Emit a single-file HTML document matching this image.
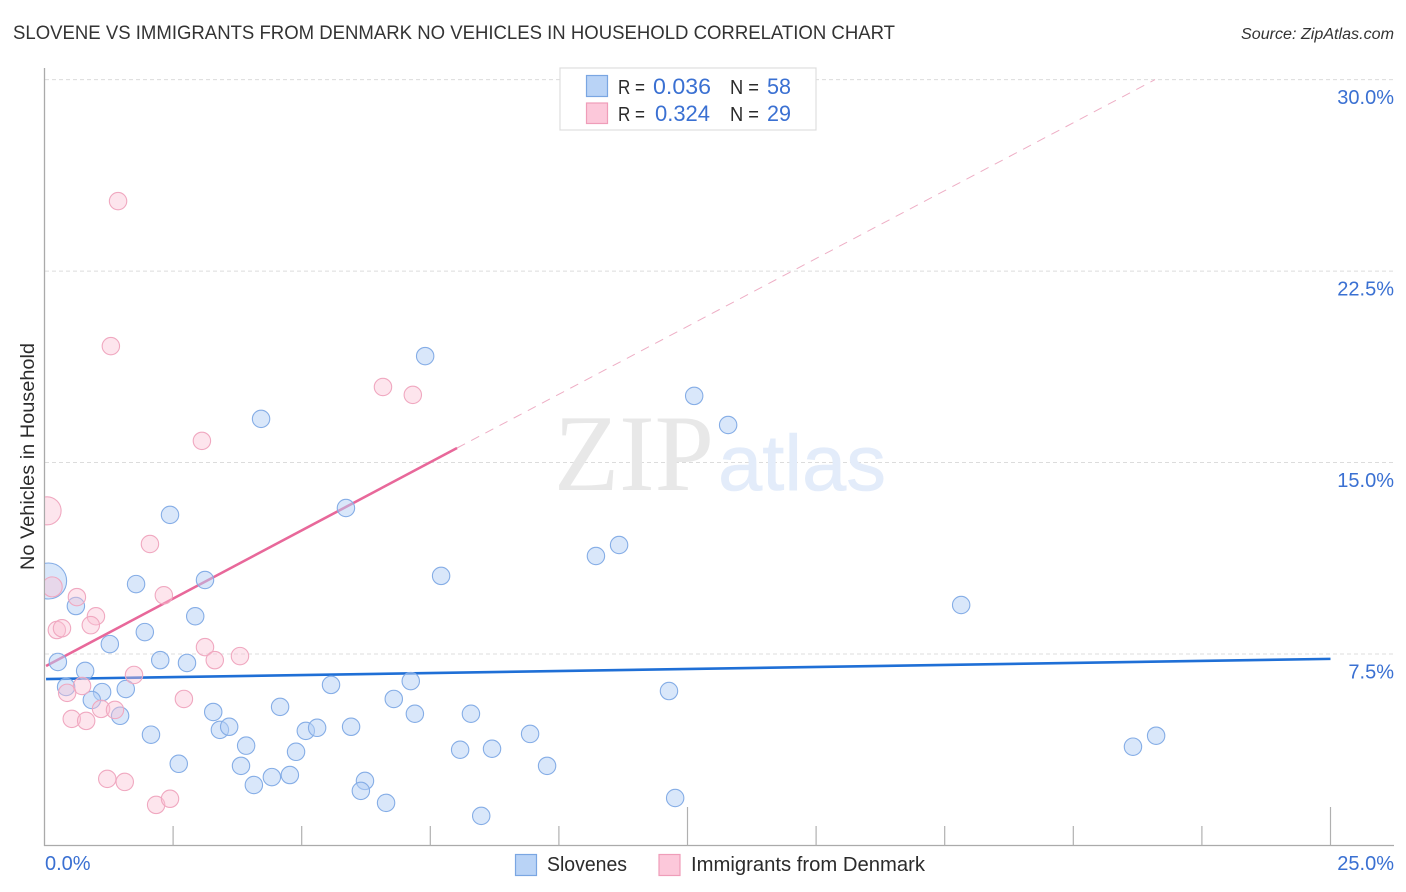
<!DOCTYPE html>
<html lang="en">
<head>
<meta charset="utf-8">
<title>Slovene vs Immigrants from Denmark No Vehicles in Household Correlation Chart</title>
<style>
html,body{margin:0;padding:0;background:#fff;width:1406px;height:892px;overflow:hidden}
svg{display:block;font-family:"Liberation Sans",sans-serif}
</style>
</head>
<body>
<svg id="chart" width="1406" height="892" viewBox="0 0 1406 892" xmlns="http://www.w3.org/2000/svg">
  <defs>
    <clipPath id="plot-clip"><rect x="45" y="60" width="1349" height="786"/></clipPath>
  </defs>
  <text x="13" y="39" font-size="19" fill="#333" textLength="882" lengthAdjust="spacingAndGlyphs">SLOVENE VS IMMIGRANTS FROM DENMARK NO VEHICLES IN HOUSEHOLD CORRELATION CHART</text>
  <text x="1241" y="39" font-size="15.5" font-style="italic" fill="#333" textLength="153" lengthAdjust="spacingAndGlyphs">Source: ZipAtlas.com</text>
  <text transform="translate(34,570) rotate(-90)" font-size="19" fill="#2b2b2b" textLength="227" lengthAdjust="spacingAndGlyphs">No Vehicles in Household</text>

  <g id="grid"></g>

  <text x="554" y="490" font-family="'Liberation Serif',serif" font-size="109" fill="#e8e8e8" textLength="160" lengthAdjust="spacingAndGlyphs">ZIP</text>
  <text x="718" y="490" font-size="79" fill="#e3ecfa" stroke="#e3ecfa" stroke-width="0.6" textLength="168" lengthAdjust="spacingAndGlyphs">atlas</text>

  <g id="axes"></g>
  <g id="trend-lines"></g>
  <g id="points" clip-path="url(#plot-clip)"></g>
  <g id="tick-labels"></g>

  <g>
    <rect x="560" y="68" width="256" height="62" fill="#fff" stroke="#dedede" stroke-width="1.2"/>
    <rect x="586.5" y="75.5" width="21" height="21" fill="#b9d3f6" stroke="#7aa6e2" stroke-width="1.2"/>
    <rect x="586.5" y="103" width="21" height="20.5" fill="#fcc8da" stroke="#ef9db9" stroke-width="1.2"/>
    <text x="618" y="94" font-size="20" fill="#2b2b2b" textLength="27" lengthAdjust="spacingAndGlyphs">R =</text>
    <text x="653" y="94" font-size="22" fill="#3a70d2" textLength="58" lengthAdjust="spacingAndGlyphs">0.036</text>
    <text x="730" y="94" font-size="20" fill="#2b2b2b" textLength="29" lengthAdjust="spacingAndGlyphs">N =</text>
    <text x="767" y="94" font-size="22" fill="#3a70d2" textLength="24" lengthAdjust="spacingAndGlyphs">58</text>
    <text x="618" y="121" font-size="20" fill="#2b2b2b" textLength="27" lengthAdjust="spacingAndGlyphs">R =</text>
    <text x="655" y="121" font-size="22" fill="#3a70d2" textLength="55" lengthAdjust="spacingAndGlyphs">0.324</text>
    <text x="730" y="121" font-size="20" fill="#2b2b2b" textLength="29" lengthAdjust="spacingAndGlyphs">N =</text>
    <text x="767" y="121" font-size="22" fill="#3a70d2" textLength="24" lengthAdjust="spacingAndGlyphs">29</text>
  </g>

  <g>
    <rect x="515.5" y="854.5" width="21" height="21" fill="#b9d3f6" stroke="#7aa6e2" stroke-width="1.2"/>
    <text x="547" y="871" font-size="20" fill="#2b2b2b" textLength="80" lengthAdjust="spacingAndGlyphs">Slovenes</text>
    <rect x="659" y="854.5" width="21" height="21" fill="#fcc8da" stroke="#ef9db9" stroke-width="1.2"/>
    <text x="691" y="871" font-size="20" fill="#2b2b2b" textLength="234" lengthAdjust="spacingAndGlyphs">Immigrants from Denmark</text>
  </g>
</svg>
<script>
const yTicks = [7.5, 15, 22.5, 30];
const yTickLabels = ["7.5%", "15.0%", "22.5%", "30.0%"];
const xTicks = [2.5, 5, 7.5, 10, 12.5, 15, 17.5, 20, 22.5, 25];
const xMajorTicks = [12.5, 25];
const xEndValues = [0, 25];
const xEndLabels = ["0.0%", "25.0%"];

const sloveneX = [7.40,4.21,12.63,13.29,5.86,2.44,11.17,10.72,7.71,3.12,1.78,17.82,0.61,2.93,1.95,1.27,0.26,2.25,2.77,0.79,5.57,7.12,0.42,1.58,1.12,0.92,12.14,6.79,4.58,3.28,7.20,8.29,1.47,3.41,3.59,5.08,5.30,5.96,2.07,9.44,3.92,4.89,8.08,8.70,21.16,21.61,2.61,3.82,9.77,4.77,4.42,4.07,6.23,6.15,6.64,12.26,8.49,0.08];
const sloveneY = [19.17,16.71,17.61,16.47,13.22,12.95,11.77,11.34,10.56,10.40,10.24,9.42,9.38,8.98,8.36,7.89,7.19,7.26,7.15,6.84,6.29,6.44,6.21,6.13,6.01,5.70,6.05,5.74,5.43,5.23,5.16,5.16,5.08,4.53,4.65,4.49,4.61,4.65,4.34,4.37,3.91,3.67,3.75,3.79,3.87,4.30,3.20,3.12,3.12,2.76,2.68,2.37,2.53,2.14,1.67,1.86,1.16,10.36];
const sloveneWeight = [1,1,1,1,1,1,1,1,1,1,1,1,1,1,1,1,1,1,1,1,1,1,1,1,1,1,1,1,1,1,1,1,1,1,1,1,1,1,1,1,1,1,1,1,1,1,1,1,1,1,1,1,1,1,1,1,1,4.28];

const denmarkX = [0.05,1.43,1.29,6.58,7.16,3.06,2.05,0.15,0.63,2.32,1.00,0.90,0.24,0.34,3.12,3.31,3.80,1.74,0.73,0.44,2.71,1.10,1.37,0.53,0.81,1.22,1.56,2.17,2.44];
const denmarkY = [13.11,25.24,19.56,17.96,17.65,15.85,11.81,10.13,9.73,9.80,8.98,8.63,8.44,8.51,7.77,7.26,7.42,6.68,6.25,5.98,5.74,5.35,5.31,4.96,4.88,2.61,2.49,1.59,1.83];
const denmarkWeight = [2.6,1,1,1,1,1,1,1.32,1,1,1,1,1,1,1,1,1,1,1,1,1,1,1,1,1,1,1,1,1];

const sloveneTrendX = [0.03, 25];
const sloveneTrendY = [6.52, 7.31];
const denmarkTrendX = [0.03, 8.02];
const denmarkTrendY = [7.03, 15.57];
const denmarkExtensionX = [8.02, 21.59];
const denmarkExtensionY = [15.57, 30];

const NS = "http://www.w3.org/2000/svg";
function xScale(v) { return 44.5 + 51.44 * v; }
function yScale(v) { return 845.5 - 25.53 * v; }
function radius(w) { return 8.7 * Math.sqrt(w); }
function make(tag, parent, attrs) {
  const el = document.createElementNS(NS, tag);
  for (const k in attrs) el.setAttribute(k, attrs[k]);
  parent.appendChild(el);
  return el;
}

const gridG = document.getElementById("grid");
const axesG = document.getElementById("axes");
const trendG = document.getElementById("trend-lines");
const pointsG = document.getElementById("points");
const labelsG = document.getElementById("tick-labels");

yTicks.forEach(function (t, i) {
  const line = make("line", gridG, {x1: 45, x2: 1394, y1: yScale(t), y2: yScale(t), stroke: "#dcdcdc", "stroke-width": 1, "stroke-dasharray": "4 3"});
  
  
  const label = make("text", labelsG, {x: 1394, y: yScale(t) + 24.5, "text-anchor": "end", "font-size": 20, fill: "#3a70d2"});
  
  
  label.textContent = yTickLabels[i];
});

const yAxis = make("line", axesG, {x1: 44.5, x2: 44.5, y1: 68, y2: 846, stroke: "#aaaaaa", "stroke-width": 1.3});


const xAxis = make("line", axesG, {x1: 44, x2: 1394, y1: yScale(0), y2: yScale(0), stroke: "#aaaaaa", "stroke-width": 1.3});



xTicks.forEach(function (t) {
  const len = xMajorTicks.indexOf(t) >= 0 ? 38.5 : 19.5;
  const tick = make("line", axesG, {x1: xScale(t), x2: xScale(t), y1: yScale(0) - len, y2: yScale(0), stroke: "#b0b0b0", "stroke-width": 1.2});
  
  
});

xEndValues.forEach(function (t, i) {
  const first = i === 0;
  const label = make("text", labelsG, {x: first ? xScale(t) + 0.5 : 1394, y: 870, "text-anchor": first ? "start" : "end", "font-size": 20, fill: "#3a70d2"});
  
  
  label.textContent = xEndLabels[i];
});

sloveneX.forEach(function (x, i) {
  const c = make("circle", pointsG, {cx: xScale(x), cy: yScale(sloveneY[i]), r: radius(sloveneWeight[i]), fill: "#b3d0f5", "fill-opacity": 0.5, stroke: "#85ade6", "stroke-width": 1.1});
  
  
});

denmarkX.forEach(function (x, i) {
  const c = make("circle", pointsG, {cx: xScale(x), cy: yScale(denmarkY[i]), r: radius(denmarkWeight[i]), fill: "#fbc2d5", "fill-opacity": 0.42, stroke: "#f0a8c0", "stroke-width": 1.1});
  
  
});

const blueLine = make("line", trendG, {x1: xScale(sloveneTrendX[0]), y1: yScale(sloveneTrendY[0]), x2: xScale(sloveneTrendX[1]), y2: yScale(sloveneTrendY[1]), stroke: "#1f6fd6", "stroke-width": 2.6});


const pinkLine = make("line", trendG, {x1: xScale(denmarkTrendX[0]), y1: yScale(denmarkTrendY[0]), x2: xScale(denmarkTrendX[1]), y2: yScale(denmarkTrendY[1]), stroke: "#e8689a", "stroke-width": 2.6});


const pinkDash = make("line", trendG, {x1: xScale(denmarkExtensionX[0]), y1: yScale(denmarkExtensionY[0]), x2: xScale(denmarkExtensionX[1]), y2: yScale(denmarkExtensionY[1]), stroke: "#eeaec5", "stroke-width": 1, "stroke-dasharray": "9 7"});


</script>
</body>
</html>
